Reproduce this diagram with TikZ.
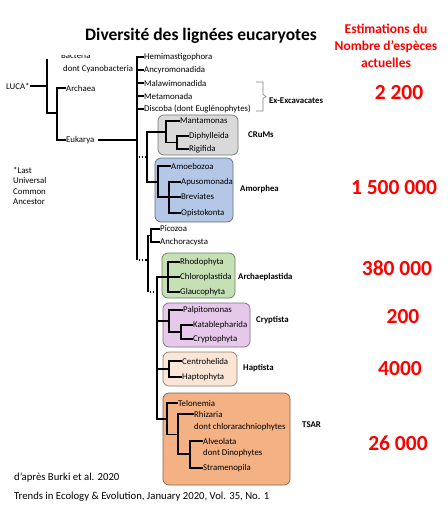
\documentclass[tikz,border=0pt]{standalone}
\usepackage{fontspec}
\setmainfont{Carlito}
\definecolor{redt}{HTML}{FF0000}
\definecolor{cCR}{HTML}{D9D9D9}
\definecolor{cAM}{HTML}{B4C7E7}
\definecolor{cAR}{HTML}{C5E0B4}
\definecolor{cCY}{HTML}{E6C8EA}
\definecolor{cHA}{HTML}{FBE5D6}
\definecolor{cTS}{HTML}{F4B183}
\begin{document}
\begin{tikzpicture}[x=1pt,y=-1pt,
 tx/.style={anchor=west,inner sep=0.5pt,font=\fontsize{8.8}{10}\selectfont},
 grp/.style={anchor=west,inner sep=0.5pt,font=\fontsize{8.8}{10}\selectfont\bfseries},
 num/.style={text=redt,inner sep=0pt,font=\fontsize{21.5}{24}\selectfont\bfseries},
 tree/.style={line width=1.8pt,line join=miter},
 dotl/.style={line width=1.6pt,dash pattern=on 1.6pt off 1.6pt},
 clade/.style={rounded corners=6pt,line width=0.7pt,inner sep=0pt},
 brace/.style={draw=black!50,line width=0.6pt}]
\useasboundingbox (0,0) rectangle (447,508);
\fill[white] (0,0) rectangle (447,508);

% clade boxes
\node[clade,fill=cCR,draw=cCR!55!black,minimum width=80pt,minimum height=40pt] (bCR) at (198,135) {};
\node[clade,fill=cAM,draw=cAM!55!black,minimum width=78pt,minimum height=64pt] (bAM) at (194,190) {};
\node[clade,fill=cAR,draw=cAR!55!black,minimum width=73pt,minimum height=45pt] (bAR) at (198.5,275.5) {};
\node[clade,fill=cCY,draw=cCY!55!black,minimum width=87pt,minimum height=44pt] (bCY) at (206.5,325) {};
\node[clade,fill=cHA,draw=cHA!55!black,minimum width=74pt,minimum height=34pt] (bHA) at (200,369) {};
\node[clade,fill=cTS,draw=cTS!55!black,minimum width=127pt,minimum height=92pt] (bTS) at (226.5,439) {};

% title and header
\node[font=\fontsize{17.5}{20}\selectfont\bfseries] (title) at (201,36) {Diversité des lignées eucaryotes};
\node[text=redt,align=center,font=\fontsize{13.5}{17}\selectfont\bfseries] (est) at (386,46) {Estimations du\\Nombre d’espèces\\actuelles};

% LUCA part
\node[tx] (luca) at (5.5,86) {LUCA*};
\begin{scope}
\clip (55,56) rectangle (140,75);
\node[tx] (bact) at (60.5,56) {Bacteria};
\end{scope}
\node[tx] (cyan) at (62.5,69) {dont Cyanobacteria};
\node[tx] (arch) at (65.5,88) {Archaea};
\node[tx] (euk) at (65.5,140) {Eukarya};
\node[anchor=north west,align=left,inner sep=0pt,font=\fontsize{8.8}{10.5}\selectfont] (fn) at (13,167) {*Last\\Universal\\Common\\Ancestor};

\draw[tree] (luca.east) -- (47,86);
\draw[tree] (47,59) -- (47,113) -- (57,113);
\draw[tree] (arch.west) -| (57,140) -- (euk.west);
\draw[tree] ([xshift=3pt]euk.east) -- (137,140);

% Ex-Excavates
\node[tx] (hemi) at (143.5,57) {Hemimastigophora};
\node[tx] (ancy) at (143.5,70) {Ancyromonadida};
\node[tx] (mala) at (143.5,83) {Malawimonadida};
\node[tx] (meta) at (143.5,96) {Metamonada};
\node[tx] (disc) at (143.5,109) {Discoba (dont Euglénophytes)};
\draw[tree] (hemi.west) -| (137,260);
\foreach \n in {ancy,mala,meta,disc} \draw[tree] (\n.west) -- ++(-6.5,0);
\draw[brace] (256,82) -- (263,82) -- (263,94.5) -- (266,96.5) -- (263,98.5) -- (263,111) -- (256,111);
\node[grp] (exc) at (268.5,101) {Ex-Excavacates};

% CRuMs
\node[tx] (mant) at (179.5,121) {Mantamonas};
\node[tx] (diph) at (188.5,136) {Diphylleida};
\node[tx] (rigi) at (188.5,149) {Rigifida};
\node[grp] (lCR) at (247.5,135) {CRuMs};
\draw[tree] (mant.west) -| (166,142.5) -- (177,142.5);
\draw[tree] (diph.west) -| (177,149) -- (rigi.west);

% Amorphea
\node[tx] (amoe) at (170.5,166) {Amoebozoa};
\node[tx] (apus) at (180.5,182) {Apusomonada};
\node[tx] (brev) at (180.5,197) {Breviates};
\node[tx] (opis) at (180.5,213) {Opistokonta};
\node[grp] (lAM) at (239.5,189) {Amorphea};
\draw[tree] (amoe.west) -| (158,197) -- (brev.west);
\draw[tree] (apus.west) -| (169,213) -- (opis.west);
\draw[tree] (166,132) -| (147,182) -- (158,182);
\draw[dotl] (138.5,157) -- (146,157);

% Picozoa / Anchoracysta
\node[tx] (pico) at (159.5,229) {Picozoa};
\node[tx] (anch) at (159.5,242) {Anchoracysta};
\draw[tree] (pico.west) -| (151,242) -- (anch.west);
\draw[tree] (151,235.5) -| (148,292);
\draw[dotl] (138.5,260) -- (147,260);
\draw[dotl] (149.5,292) -- (156,292);

% Archaeplastida
\node[tx] (rhod) at (179.5,262) {Rhodophyta};
\node[tx] (chlo) at (179.5,277) {Chloroplastida};
\node[tx] (glau) at (179.5,292) {Glaucophyta};
\node[grp] (lAR) at (237.5,277) {Archaeplastida};
\draw[tree] (rhod.west) -| (168,292) -- (glau.west);
\draw[tree] (chlo.west) -| (157,419) -- (167,419);

% Cryptista
\node[tx] (palp) at (182.5,310) {Palpitomonas};
\node[tx] (kata) at (192.5,325) {Katablepharida};
\node[tx] (cryp) at (192.5,339) {Cryptophyta};
\node[grp] (lCY) at (255.5,320) {Cryptista};
\draw[tree] (palp.west) -| (169,332) -- (181,332);
\draw[tree] (kata.west) -| (181,339) -- (cryp.west);
\draw[tree] (157,321) -- (169,321);

% Haptista
\node[tx] (cent) at (181.5,361) {Centrohelida};
\node[tx] (hapt) at (181.5,377) {Haptophyta};
\node[grp] (lHA) at (242.5,368) {Haptista};
\draw[tree] (cent.west) -| (169,377) -- (hapt.west);
\draw[tree] (157,369) -- (169,369);

% TSAR
\node[tx] (telo) at (177.5,403) {Telonemia};
\node[tx] (rhiz) at (193.5,414) {Rhizaria};
\node[tx] (rhizb) at (193.5,427) {dont chlorarachniophytes};
\node[tx] (alve) at (202.5,441) {Alveolata};
\node[tx] (alveb) at (202.5,453) {dont Dinophytes};
\node[tx] (stra) at (202.5,468) {Stramenopila};
\node[grp] (lTS) at (301.5,425) {TSAR};
\draw[tree] (telo.west) -| (167,434.5) -- (178,434.5);
\draw[tree] (rhiz.west) -| (178,454) -- (190,454);
\draw[tree] (alve.west) -| (190,468) -- (stra.west);

% numbers
\node[num] (n1) at (399,93) {2 200};
\node[num] (n2) at (394,188) {1 500 000};
\node[num] (n3) at (397,268) {380 000};
\node[num] (n4) at (403,317) {200};
\node[num] (n5) at (400,369) {4000};
\node[num] (n6) at (398,443) {26 000};

% source
\node[anchor=west,inner sep=0pt,font=\fontsize{10.7}{12}\selectfont] (src1) at (14,478) {d’après Burki et al. 2020};
\node[anchor=west,inner sep=0pt,font=\fontsize{10.7}{12}\selectfont] (src2) at (14,497) {Trends in Ecology \& Evolution, January 2020, Vol. 35, No. 1};
\end{tikzpicture}
\end{document}
